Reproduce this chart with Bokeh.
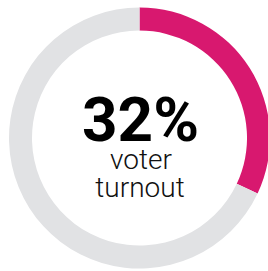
from bokeh.plotting import figure
from bokeh.models import Range1d
from bokeh.core.properties import value
from bokeh.embed import file_html
from bokeh.resources import INLINE
import math

# data
turnout_pct = 32
big_label = ["32%"]
sub_labels = ["voter", "turnout"]
colors = {"filled": "#D8186F", "rest": "#E1E2E4"}

W, H = 268, 271
p = figure(width=W, height=H, output_backend="svg", toolbar_location=None,
           x_range=Range1d(-139, 129), y_range=Range1d(-133.5, 137.5),
           min_border=0, outline_line_color=None)
p.axis.visible = False
p.grid.visible = False
p.background_fill_color = "white"
p.border_fill_color = "white"

start = math.pi / 2
end = start - 2 * math.pi * turnout_pct / 100
r_in, r_out = 107.5, 130.5

p.annular_wedge(x=0, y=0, inner_radius=r_in, outer_radius=r_out,
                start_angle=end, end_angle=start, direction="anticlock",
                fill_color=colors["filled"], line_color=None)
p.annular_wedge(x=0, y=0, inner_radius=r_in, outer_radius=r_out,
                start_angle=end, end_angle=start, direction="clock",
                fill_color=colors["rest"], line_color=None)

p.text(x=[1], y=[19], text=big_label, text_font=value("Roboto"),
       text_font_style="bold", text_font_size="62px", text_color="black",
       text_align="center", text_baseline="alphabetic")
p.text(x=[1.5, 0.5], y=[-21.5, -49.5], text=sub_labels,
       text_font=value("Roboto Light, Roboto"), text_font_size="28px",
       text_color="#111111", text_align="center", text_baseline="alphabetic")

open("out.html", "w").write(file_html(p, INLINE))
